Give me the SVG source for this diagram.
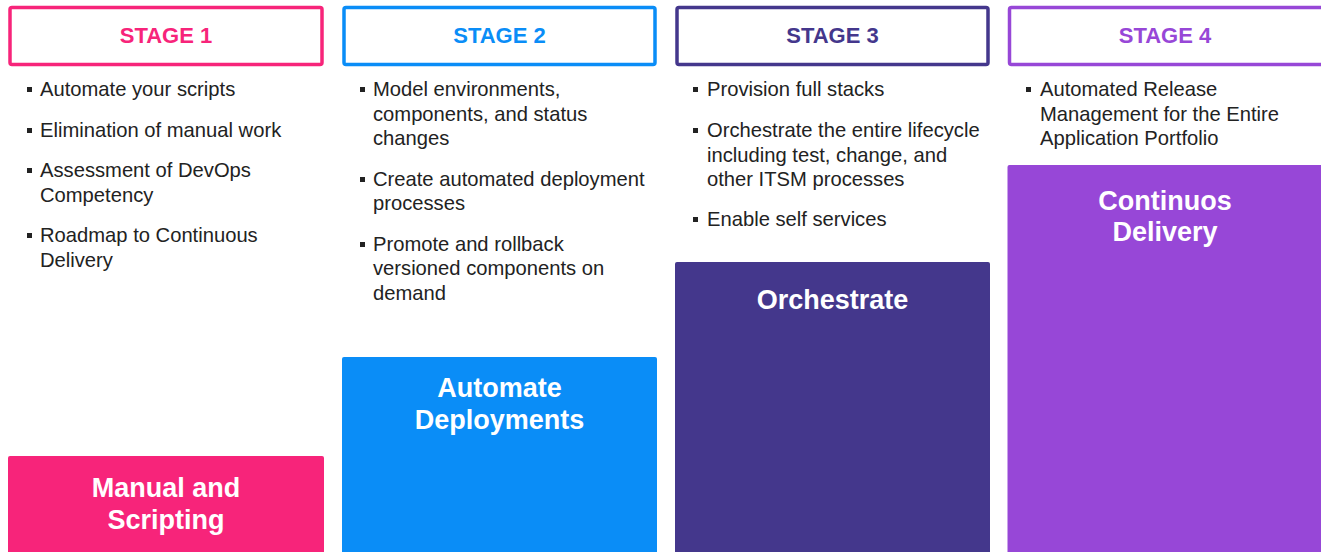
<svg xmlns="http://www.w3.org/2000/svg" width="1321" height="552" viewBox="0 0 1321 552">
  <style>
    .hdr { fill: #ffffff; stroke-width: 3.5; }
    .hdr-t { font-family: "Liberation Sans", Arial, sans-serif; font-weight: bold; font-size: 22px; text-anchor: middle; }
    .item { font-family: "Liberation Sans", Arial, sans-serif; font-size: 20.2px; fill: #222222; }
    .bar-t { font-family: "Liberation Sans", Arial, sans-serif; font-weight: bold; font-size: 27px; fill: #ffffff; text-anchor: middle; }
    .dot { fill: #222222; }
  </style>
  <rect width="1321" height="552" fill="#ffffff"/>

  <!-- Stage 1 -->
  <g id="stage1">
    <rect class="hdr" x="10" y="7.5" width="312" height="57" rx="2" stroke="#F7247A"/>
    <text class="hdr-t" x="166" y="43" fill="#F7247A">STAGE 1</text>
    <g class="item">
      <rect class="dot" x="27" y="87" width="5" height="5"/>
      <text x="40" y="96">Automate your scripts</text>
      <rect class="dot" x="27" y="128" width="5" height="5"/>
      <text x="40" y="137">Elimination of manual work</text>
      <rect class="dot" x="27" y="168" width="5" height="5"/>
      <text x="40" y="177">Assessment of DevOps</text>
      <text x="40" y="202">Competency</text>
      <rect class="dot" x="27" y="233" width="5" height="5"/>
      <text x="40" y="242">Roadmap to Continuous</text>
      <text x="40" y="267">Delivery</text>
    </g>
    <rect x="8" y="456" width="316" height="100" rx="2" fill="#F7247A"/>
    <text class="bar-t" x="166" y="497">Manual and</text>
    <text class="bar-t" x="166" y="529">Scripting</text>
  </g>

  <!-- Stage 2 -->
  <g id="stage2">
    <rect class="hdr" x="344" y="7.5" width="311" height="57" rx="2" stroke="#0A8DF7"/>
    <text class="hdr-t" x="499.5" y="43" fill="#0A8DF7">STAGE 2</text>
    <g class="item">
      <rect class="dot" x="360" y="87" width="5" height="5"/>
      <text x="373" y="96">Model environments,</text>
      <text x="373" y="121">components, and status</text>
      <text x="373" y="145">changes</text>
      <rect class="dot" x="360" y="177" width="5" height="5"/>
      <text x="373" y="186">Create automated deployment</text>
      <text x="373" y="210">processes</text>
      <rect class="dot" x="360" y="242" width="5" height="5"/>
      <text x="373" y="251">Promote and rollback</text>
      <text x="373" y="275">versioned components on</text>
      <text x="373" y="300">demand</text>
    </g>
    <rect x="342" y="357" width="315" height="199" rx="2" fill="#0A8DF7"/>
    <text class="bar-t" x="499.5" y="397">Automate</text>
    <text class="bar-t" x="499.5" y="429">Deployments</text>
  </g>

  <!-- Stage 3 -->
  <g id="stage3">
    <rect class="hdr" x="677" y="7.5" width="311" height="57" rx="2" stroke="#44378C"/>
    <text class="hdr-t" x="832.5" y="43" fill="#44378C">STAGE 3</text>
    <g class="item">
      <rect class="dot" x="693" y="87" width="5" height="5"/>
      <text x="707" y="96">Provision full stacks</text>
      <rect class="dot" x="693" y="128" width="5" height="5"/>
      <text x="707" y="137">Orchestrate the entire lifecycle</text>
      <text x="707" y="162">including test, change, and</text>
      <text x="707" y="186">other ITSM processes</text>
      <rect class="dot" x="693" y="217" width="5" height="5"/>
      <text x="707" y="226">Enable self services</text>
    </g>
    <rect x="675" y="262" width="315" height="294" rx="2" fill="#44378C"/>
    <text class="bar-t" x="832.5" y="309">Orchestrate</text>
  </g>

  <!-- Stage 4 -->
  <g id="stage4">
    <rect class="hdr" x="1009.5" y="7.5" width="314" height="57" rx="2" stroke="#9747D7"/>
    <text class="hdr-t" x="1165" y="43" fill="#9747D7">STAGE 4</text>
    <g class="item">
      <rect class="dot" x="1026" y="87" width="5" height="5"/>
      <text x="1040" y="96">Automated Release</text>
      <text x="1040" y="121">Management for the Entire</text>
      <text x="1040" y="145">Application Portfolio</text>
    </g>
    <rect x="1007.5" y="165" width="320" height="391" rx="2" fill="#9747D7"/>
    <text class="bar-t" x="1165" y="210">Continuos</text>
    <text class="bar-t" x="1165" y="241">Delivery</text>
  </g>

  <!-- no connectors between the stages -->
  <g id="connectors"/>
</svg>
